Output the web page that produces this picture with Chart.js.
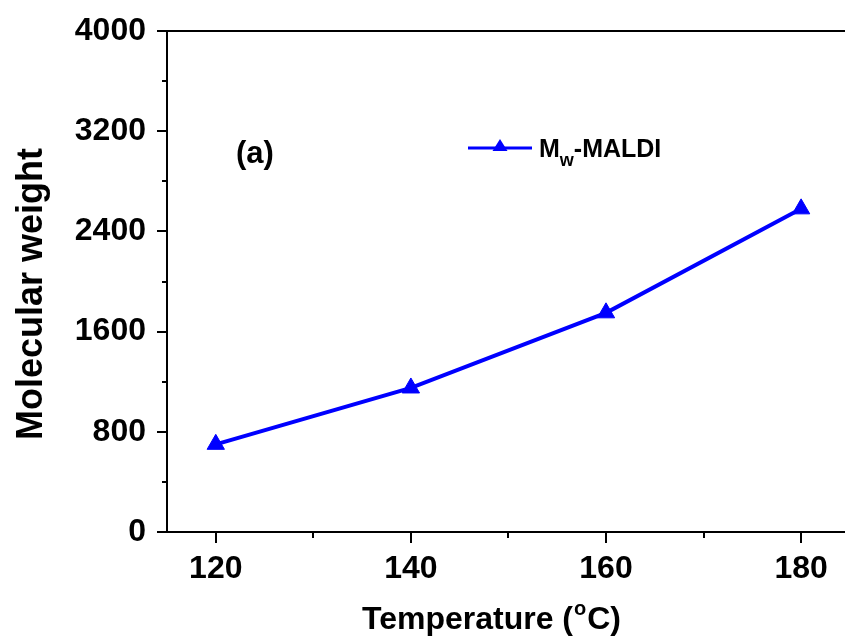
<!DOCTYPE html>
<html>
<head>
<meta charset="utf-8">
<script src="https://cdn.jsdelivr.net/npm/chart.js@4"></script>
<style>
  html, body { margin: 0; padding: 0; background: #fff; overflow: hidden; }
</style>
</head>
<body>
<canvas id="chart" width="845" height="643"></canvas>
<script>
// Datos
const temperatures = [120, 140, 160, 180];
const mwMaldi = [700, 1150, 1750, 2580];
const seriesLabel = 'Mw-MALDI';

// Marcas de los ejes
const xMajorTicks = [120, 140, 160, 180];
const xMinorTicks = [130, 150, 170];
const yMajorTicks = [0, 800, 1600, 2400, 3200, 4000];
const yMinorTicks = [400, 1200, 2000, 2800, 3600];

const FONT = "'Liberation Sans', Arial, sans-serif";
const BLUE = '#0000ff';

// Dibuja marcas, borde superior, títulos y leyenda
const decorations = {
  id: 'decorations',
  afterDraw(chart) {
    const { ctx, chartArea, scales } = chart;
    const xs = scales.x, ys = scales.y;
    ctx.save();
    ctx.strokeStyle = '#000';
    ctx.lineWidth = 2;

    // borde superior
    ctx.beginPath();
    ctx.moveTo(chartArea.left - 1, chartArea.top);
    ctx.lineTo(chartArea.right, chartArea.top);
    ctx.stroke();

    // marcas del eje x
    const xTicks = xMajorTicks.map(v => [v, 11]).concat(xMinorTicks.map(v => [v, 6]));
    xTicks.forEach(([v, len]) => {
      const px = Math.round(xs.getPixelForValue(v));
      ctx.beginPath();
      ctx.moveTo(px, chartArea.bottom);
      ctx.lineTo(px, chartArea.bottom + len);
      ctx.stroke();
    });

    // marcas del eje y
    const yTicks = yMajorTicks.map(v => [v, 10]).concat(yMinorTicks.map(v => [v, 5]));
    yTicks.forEach(([v, len]) => {
      const py = Math.round(ys.getPixelForValue(v));
      ctx.beginPath();
      ctx.moveTo(chartArea.left, py);
      ctx.lineTo(chartArea.left - len, py);
      ctx.stroke();
    });

    ctx.fillStyle = '#000';
    ctx.textBaseline = 'alphabetic';

    // título eje x: Temperature (°C)
    ctx.font = 'bold 32px ' + FONT;
    const partA = 'Temperature (';
    const partC = 'C)';
    const wA = ctx.measureText(partA).width;
    const wC = ctx.measureText(partC).width;
    ctx.font = 'bold 20px ' + FONT;
    const wO = ctx.measureText('o').width;
    const total = wA + wO + wC + 2;
    let tx = 491.5 - total / 2;
    const baseX = 629;
    ctx.font = 'bold 32px ' + FONT;
    ctx.fillText(partA, tx, baseX);
    ctx.font = 'bold 20px ' + FONT;
    ctx.fillText('o', tx + wA + 1, baseX - 14);
    ctx.font = 'bold 32px ' + FONT;
    ctx.fillText(partC, tx + wA + wO + 2, baseX);

    // título eje y
    ctx.save();
    ctx.translate(42, 294);
    ctx.rotate(-Math.PI / 2);
    ctx.font = 'bold 36px ' + FONT;
    ctx.textAlign = 'center';
    ctx.fillText('Molecular weight', 0, 0);
    ctx.restore();

    // etiqueta (a)
    ctx.font = 'bold 31px ' + FONT;
    ctx.textAlign = 'left';
    ctx.fillText('(a)', 236, 163);

    // leyenda
    ctx.strokeStyle = BLUE;
    ctx.lineWidth = 3;
    ctx.beginPath();
    ctx.moveTo(468, 148);
    ctx.lineTo(532, 148);
    ctx.stroke();
    ctx.fillStyle = BLUE;
    ctx.beginPath();
    ctx.moveTo(500, 139);
    ctx.lineTo(507.5, 151);
    ctx.lineTo(492.5, 151);
    ctx.closePath();
    ctx.fill();

    ctx.fillStyle = '#000';
    ctx.font = 'bold 25px ' + FONT;
    ctx.fillText('M', 539, 157);
    const wM = ctx.measureText('M').width;
    ctx.font = 'bold 18px ' + FONT;
    ctx.fillText('w', 539 + wM, 166);
    const wW = ctx.measureText('w').width;
    ctx.font = 'bold 25px ' + FONT;
    ctx.fillText(seriesLabel.slice(2), 539 + wM + wW, 157);

    ctx.restore();
  }
};

const ctx = document.getElementById('chart').getContext('2d');
const chart = new Chart(ctx, {
  type: 'line',
  data: {
    datasets: [{
      label: seriesLabel,
      data: temperatures.map((t, i) => ({ x: t, y: mwMaldi[i] })),
      borderColor: BLUE,
      backgroundColor: BLUE,
      borderWidth: 4,
      tension: 0,
      pointStyle: 'triangle',
      pointRadius: 10,
      pointBorderWidth: 1,
      pointBackgroundColor: BLUE,
      pointBorderColor: BLUE
    }]
  },
  options: {
    responsive: false,
    animation: false,
    layout: { autoPadding: false, padding: { top: 31, left: 0, right: 0, bottom: 0 } },
    plugins: {
      legend: { display: false },
      tooltip: { enabled: false }
    },
    scales: {
      x: {
        type: 'linear',
        min: 115,
        max: 184.5,
        grid: { display: false },
        border: { display: true, color: '#000', width: 2 },
        afterBuildTicks: s => { s.ticks = xMajorTicks.map(v => ({ value: v })); },
        afterFit: s => { s.height = 111; s.paddingLeft = 0; s.paddingRight = 0; },
        ticks: {
          autoSkip: false,
          maxRotation: 0,
          padding: 10,
          color: '#000',
          font: { family: FONT, size: 32, weight: 'bold' },
          callback: v => String(v)
        }
      },
      y: {
        min: 0,
        max: 4000,
        grid: { display: false },
        border: { display: true, color: '#000', width: 2 },
        afterBuildTicks: s => { s.ticks = yMajorTicks.map(v => ({ value: v })); },
        afterFit: s => { s.width = 167; s.paddingTop = 0; s.paddingBottom = 0; },
        ticks: {
          autoSkip: false,
          padding: 13,
          color: '#000',
          font: { family: FONT, size: 32, weight: 'bold' },
          callback: v => String(v)
        }
      }
    }
  },
  plugins: [decorations]
});
</script>
</body>
</html>
